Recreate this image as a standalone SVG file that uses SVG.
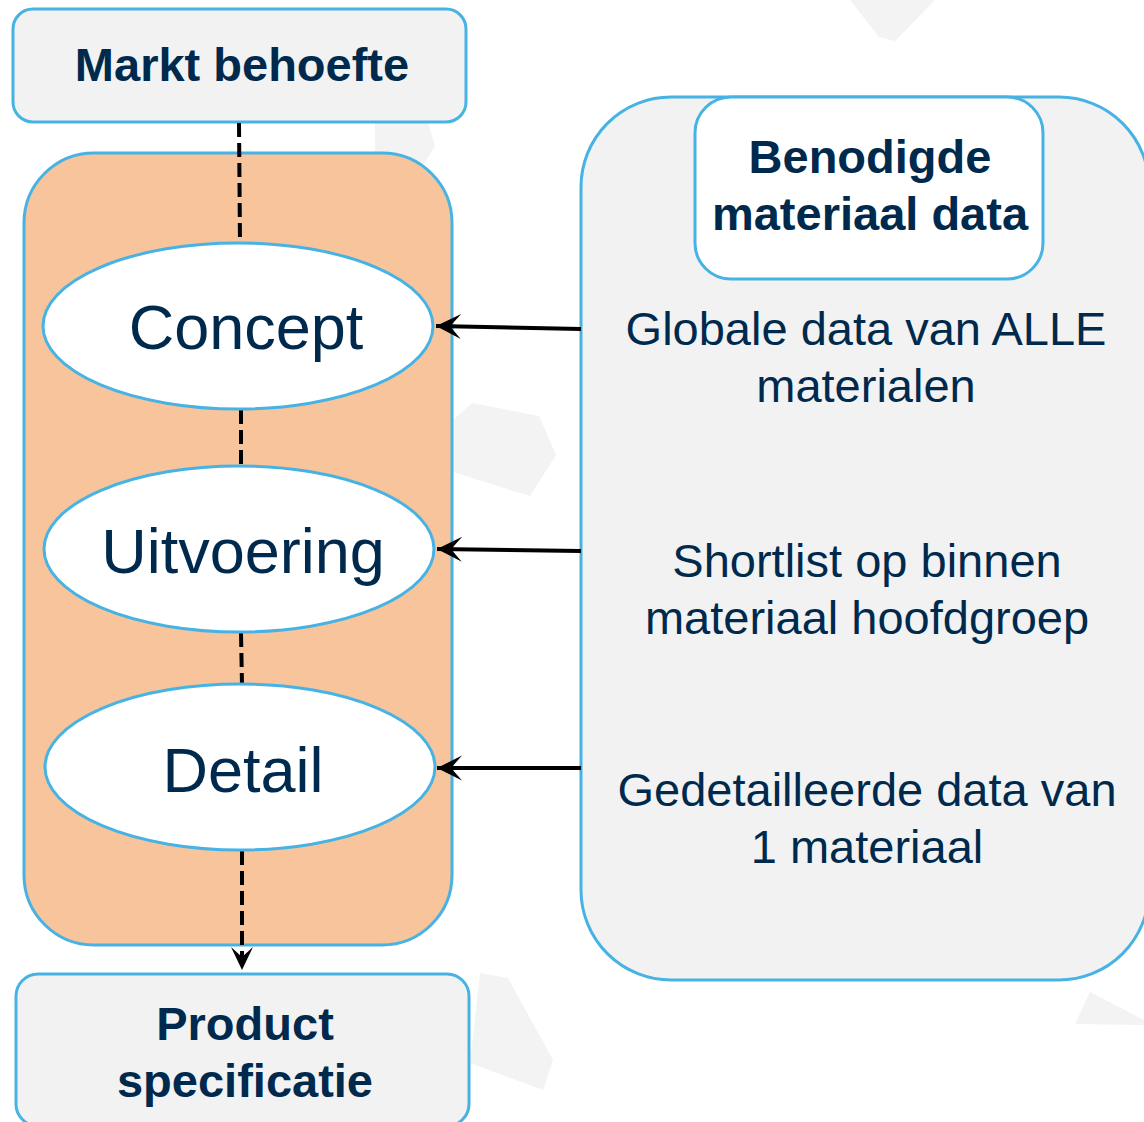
<svg xmlns="http://www.w3.org/2000/svg" width="1144" height="1122" viewBox="0 0 1144 1122">
<style>
.box{fill:#f2f2f2;stroke:#47b3e4;stroke-width:3}
.ell{fill:#ffffff;stroke:#47b3e4;stroke-width:3}
.wm{fill:#f3f3f3}
.t{font-family:"Liberation Sans",Arial,sans-serif;fill:#002a4d;text-anchor:middle}
.b{font-weight:bold;font-size:47px}
.r{font-size:47px}
.big{font-size:63px}
.dash{stroke:#000;stroke-width:4;stroke-dasharray:14 6;fill:none}
.arr{stroke:#000;stroke-width:4;fill:none}
</style>
<defs>
<marker id="ah" markerUnits="userSpaceOnUse" markerWidth="30" markerHeight="30" viewBox="-27 -14 30 28" refX="0" refY="0" orient="auto">
<path d="M0,0 L-25,-12.5 L-14,0 L-25,12.5 Z" fill="#000"/>
</marker>
<marker id="ah2" markerUnits="userSpaceOnUse" markerWidth="26" markerHeight="26" viewBox="-24 -12 26 24" refX="0" refY="0" orient="auto">
<path d="M0,0 L-23,-11 L-13,0 L-23,11 Z" fill="#000"/>
</marker>
</defs>
<rect width="1144" height="1122" fill="#ffffff"/>
<g id="watermark">
<polygon class="wm" points="850,0 935,0 895,41 879,37"/>
<polygon class="wm" points="375,116 428,122 435,146 420,170 375,170"/>
<polygon class="wm" points="472,403 539,416 556,455 530,496 453,472 453,420"/>
<polygon class="wm" points="480,973 508,978 553,1060 543,1090 470,1063"/>
<polygon class="wm" points="1090,992 1144,1020 1144,1025 1075,1024"/>
</g>
<g id="markt">
<rect class="box" x="13" y="9" width="453" height="113" rx="20"/>
<text class="t b" x="242" y="81">Markt behoefte</text>
</g>
<g id="fases">
<rect x="24" y="153" width="428" height="792" rx="70" fill="#f7c49b" stroke="#47b3e4" stroke-width="3"/>
</g>
<g id="data">
<rect class="box" x="581" y="97" width="568" height="883" rx="90"/>
</g>
<g id="benodigd">
<rect x="695" y="97" width="348" height="182" rx="36" fill="#ffffff" stroke="#47b3e4" stroke-width="3"/>
<text class="t b" x="870" y="173">Benodigde</text>
<text class="t b" x="870" y="230">materiaal data</text>
</g>
<g id="product">
<rect class="box" x="16" y="974" width="453" height="152" rx="22"/>
<text class="t b" x="245" y="1040">Product</text>
<text class="t b" x="245" y="1097">specificatie</text>
</g>
<g id="connectors">
<line class="dash" x1="239" y1="123" x2="240" y2="243"/>
<line class="dash" x1="241" y1="410" x2="241" y2="467"/>
<line class="dash" x1="241" y1="633" x2="242" y2="685"/>
<line class="dash" x1="242" y1="851" x2="242" y2="970" marker-end="url(#ah2)"/>
<line class="arr" x1="581" y1="329" x2="436" y2="326" marker-end="url(#ah)"/>
<line class="arr" x1="581" y1="551" x2="437" y2="549" marker-end="url(#ah)"/>
<line class="arr" x1="581" y1="768" x2="437" y2="768" marker-end="url(#ah)"/>
</g>
<g id="concept">
<ellipse class="ell" cx="238" cy="326" rx="195" ry="83"/>
<text class="t big" x="246" y="349">Concept</text>
</g>
<g id="uitvoering">
<ellipse class="ell" cx="239" cy="549" rx="195" ry="83"/>
<text class="t big" x="243" y="573">Uitvoering</text>
</g>
<g id="detail">
<ellipse class="ell" cx="240" cy="767" rx="195" ry="83"/>
<text class="t big" x="243" y="792">Detail</text>
</g>
<g id="data-texts">
<text class="t r" x="866" y="345">Globale data van ALLE</text>
<text class="t r" x="866" y="402">materialen</text>
<text class="t r" x="867" y="577">Shortlist op binnen</text>
<text class="t r" x="867" y="634">materiaal hoofdgroep</text>
<text class="t r" x="867" y="806">Gedetailleerde data van</text>
<text class="t r" x="867" y="863">1 materiaal</text>
</g>
</svg>
